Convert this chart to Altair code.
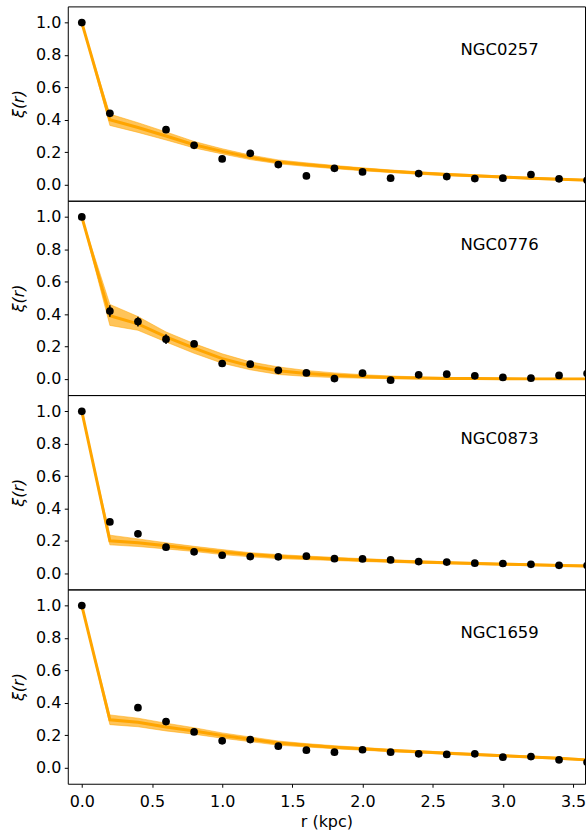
import altair as alt
import pandas as pd

# ---------------- data ----------------
r_kpc = [0.0, 0.2, 0.4, 0.6, 0.8, 1.0, 1.2, 1.4, 1.6, 1.8, 2.0, 2.2, 2.4, 2.6, 2.8, 3.0, 3.2, 3.4, 3.6]
galaxies = ["NGC0257", "NGC0776", "NGC0873", "NGC1659"]

# measured correlation (black points); None = no point shown
obs_0257 = [1.0, 0.44, None, 0.339, 0.242, 0.158, 0.193, 0.123, 0.053, 0.100, 0.078, 0.039, 0.068, 0.049, 0.037, 0.039, 0.062, 0.035, 0.027]
obs_0776 = [1.0, 0.419, 0.354, 0.245, 0.216, 0.095, 0.091, 0.053, 0.037, 0.002, 0.035, -0.008, 0.025, 0.029, 0.019, 0.009, 0.004, 0.021, 0.033]
obs_0873 = [1.0, 0.317, 0.243, 0.161, 0.132, 0.111, 0.103, 0.101, 0.105, 0.090, 0.088, 0.082, 0.072, 0.069, 0.062, 0.060, 0.055, 0.049, 0.047]
obs_1659 = [1.0, None, 0.370, 0.284, 0.220, 0.165, 0.173, 0.132, 0.107, 0.095, 0.110, 0.095, 0.085, 0.081, 0.085, 0.064, 0.068, 0.048, 0.033]

# error bars
err_0257 = [0.0, 0.015, 0.0, 0.01, 0.01, 0.01, 0.01, 0.01, 0.01, 0.01, 0.01, 0.01, 0.01, 0.01, 0.01, 0.01, 0.01, 0.01, 0.01]
err_0776 = [0.0, 0.035, 0.03, 0.03, 0.018, 0.012, 0.01, 0.01, 0.01, 0.01, 0.01, 0.01, 0.01, 0.01, 0.01, 0.01, 0.01, 0.01, 0.01]
err_0873 = [0.0, 0.012, 0.02, 0.01, 0.01, 0.01, 0.01, 0.01, 0.01, 0.01, 0.01, 0.01, 0.01, 0.01, 0.01, 0.01, 0.01, 0.01, 0.01]
err_1659 = [0.0, 0.0, 0.02, 0.012, 0.01, 0.01, 0.01, 0.01, 0.01, 0.01, 0.01, 0.01, 0.01, 0.01, 0.01, 0.01, 0.01, 0.01, 0.01]

# model bundle: lower envelope, central line, upper envelope
lo_0257 = [1.0, 0.365, 0.322, 0.275, 0.226, 0.189, 0.154, 0.128, 0.112, 0.098, 0.085, 0.074, 0.063, 0.055, 0.047, 0.040, 0.033, 0.027, 0.021]
mid_0257 = [1.0, 0.400, 0.352, 0.300, 0.246, 0.205, 0.168, 0.140, 0.123, 0.108, 0.094, 0.082, 0.071, 0.062, 0.054, 0.046, 0.039, 0.033, 0.027]
hi_0257 = [1.0, 0.435, 0.382, 0.325, 0.266, 0.221, 0.182, 0.152, 0.134, 0.118, 0.103, 0.090, 0.079, 0.069, 0.061, 0.052, 0.045, 0.039, 0.033]

lo_0776 = [1.0, 0.330, 0.300, 0.228, 0.158, 0.097, 0.056, 0.027, 0.015, 0.008, 0.004, 0.001, -0.001, -0.002, -0.002, -0.003, -0.003, -0.003, -0.003]
mid_0776 = [1.0, 0.390, 0.340, 0.260, 0.190, 0.125, 0.080, 0.050, 0.033, 0.022, 0.014, 0.009, 0.005, 0.003, 0.002, 0.001, 0.000, 0.000, 0.000]
hi_0776 = [1.0, 0.460, 0.385, 0.290, 0.218, 0.155, 0.105, 0.074, 0.052, 0.037, 0.026, 0.018, 0.012, 0.009, 0.007, 0.005, 0.004, 0.003, 0.003]

lo_0873 = [1.0, 0.175, 0.165, 0.150, 0.134, 0.115, 0.101, 0.090, 0.084, 0.078, 0.072, 0.067, 0.062, 0.058, 0.054, 0.050, 0.046, 0.043, 0.040]
mid_0873 = [1.0, 0.200, 0.188, 0.170, 0.150, 0.131, 0.115, 0.103, 0.095, 0.088, 0.081, 0.075, 0.069, 0.064, 0.060, 0.056, 0.052, 0.048, 0.045]
hi_0873 = [1.0, 0.235, 0.212, 0.188, 0.166, 0.146, 0.127, 0.115, 0.106, 0.098, 0.090, 0.083, 0.077, 0.071, 0.067, 0.062, 0.058, 0.054, 0.051]

lo_1659 = [1.0, 0.265, 0.252, 0.226, 0.206, 0.181, 0.160, 0.138, 0.127, 0.116, 0.107, 0.098, 0.090, 0.082, 0.075, 0.067, 0.059, 0.051, 0.041]
mid_1659 = [1.0, 0.295, 0.280, 0.250, 0.226, 0.198, 0.175, 0.152, 0.138, 0.126, 0.116, 0.106, 0.097, 0.089, 0.081, 0.073, 0.065, 0.057, 0.047]
hi_1659 = [1.0, 0.325, 0.305, 0.274, 0.246, 0.214, 0.189, 0.164, 0.148, 0.135, 0.124, 0.113, 0.104, 0.096, 0.087, 0.079, 0.071, 0.063, 0.053]

x_ticks = [0.0, 0.5, 1.0, 1.5, 2.0, 2.5, 3.0, 3.5]
y_ticks = [0.0, 0.2, 0.4, 0.6, 0.8, 1.0]

panels = [
    ("NGC0257", obs_0257, err_0257, lo_0257, mid_0257, hi_0257),
    ("NGC0776", obs_0776, err_0776, lo_0776, mid_0776, hi_0776),
    ("NGC0873", obs_0873, err_0873, lo_0873, mid_0873, hi_0873),
    ("NGC1659", obs_1659, err_1659, lo_1659, mid_1659, hi_1659),
]

ORANGE = "#FFA500"
FONT = "DejaVu Sans"
W, H = 519, 195


def make_panel(name, obs, err, lo, mid, hi, bottom):
    pts = pd.DataFrame({"r": r_kpc, "xi": obs, "err": err}).dropna(subset=["xi"])
    pts["ylo"] = pts["xi"] - pts["err"]
    pts["yhi"] = pts["xi"] + pts["err"]
    mod = pd.DataFrame({"r": r_kpc, "lo": lo, "mid": mid, "hi": hi})

    xs = alt.Scale(domain=[-0.1, 3.585], nice=False, zero=False)
    ys = alt.Scale(domain=[-0.1, 1.1], nice=False, zero=False)
    if bottom:
        xax = alt.Axis(values=x_ticks, format=".1f", title="r (kpc)", grid=False,
                       domain=False, tickSize=3.5, labelPadding=6.5, titlePadding=4,
                       labelFontSize=16, titleFontSize=16, labelFlush=False)
    else:
        xax = None
    yax = alt.Axis(values=y_ticks, format=".1f", title="ξ(r)", grid=False,
                   domain=False, tickSize=3.5, labelPadding=3.5, titlePadding=8,
                   labelFontSize=16, titleFontSize=16, titleFontStyle="italic",
                   minExtent=33, maxExtent=33)

    def X(field):
        return alt.X(field, type="quantitative", scale=xs, axis=xax)

    def Y(field):
        return alt.Y(field, type="quantitative", scale=ys, axis=yax)

    base_m = alt.Chart(mod)
    band = base_m.mark_area(color=ORANGE, opacity=0.65, clip=True).encode(
        x=X("r"), y=Y("lo"), y2="hi")
    edge_lo = base_m.mark_line(color=ORANGE, opacity=0.5, strokeWidth=1, clip=True).encode(
        x=X("r"), y=Y("lo"))
    edge_hi = base_m.mark_line(color=ORANGE, opacity=0.5, strokeWidth=1, clip=True).encode(
        x=X("r"), y=Y("hi"))
    center = base_m.mark_line(color=ORANGE, opacity=1, strokeWidth=3, clip=True).encode(
        x=X("r"), y=Y("mid"))

    base_p = alt.Chart(pts)
    bars = base_p.mark_rule(color="black", strokeWidth=1.5, clip=True).encode(
        x=X("r"), y=Y("ylo"), y2="yhi")
    dots = base_p.mark_circle(color="black", size=60, opacity=1, clip=True).encode(
        x=X("r"), y=Y("xi"))

    label = alt.Chart(pd.DataFrame({"t": [name]})).mark_text(
        align="left", baseline="middle", fontSize=16.5, font=FONT, color="black"
    ).encode(text="t:N", x=alt.value(394), y=alt.value(44))

    return alt.layer(band, edge_lo, edge_hi, center, bars, dots, label).properties(
        width=W, height=H)


charts = [make_panel(n, o, e, l, m, h, i == len(panels) - 1)
          for i, (n, o, e, l, m, h) in enumerate(panels)]

chart = alt.vconcat(*charts, spacing=0, bounds="flush").properties(
    padding={"left": 10, "top": 4, "right": 0, "bottom": 0},
    background="white",
).configure_view(
    stroke="black", strokeWidth=1
).configure_axis(
    labelFont=FONT, titleFont=FONT, labelColor="black", titleColor="black",
    tickColor="black", tickWidth=1, titleFontWeight="normal"
)

chart.save("out.html", embed_options={"renderer": "svg", "actions": False})
